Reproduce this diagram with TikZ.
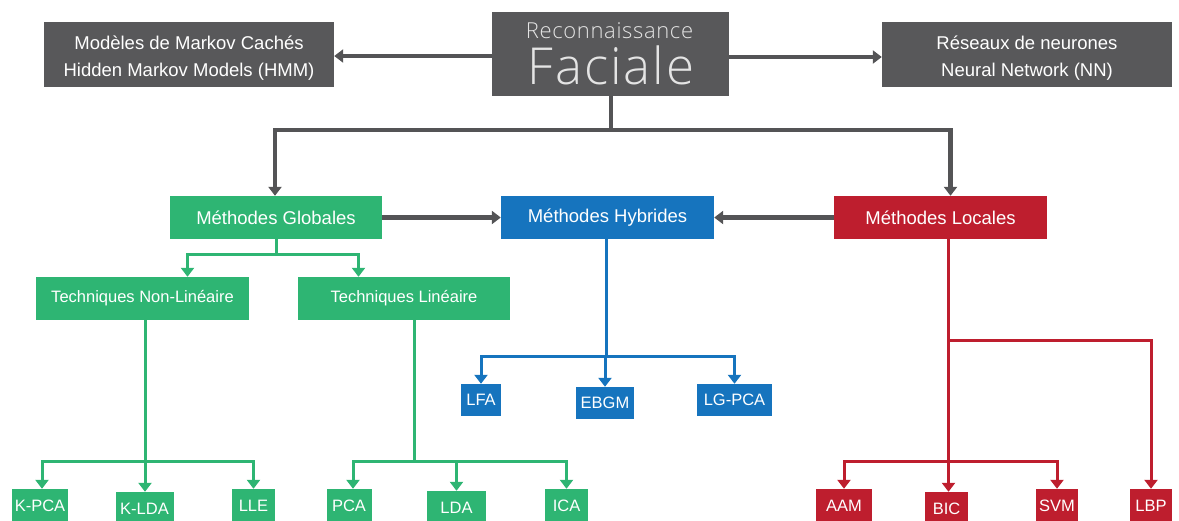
\documentclass[tikz,border=0pt]{standalone}
\usepackage{fontspec}
\setmainfont{Liberation Sans}
\newfontfamily\titlefont{Open Sans Light}
\usetikzlibrary{arrows.meta}

\definecolor{boxgray}{RGB}{88,88,90}
\definecolor{linegray}{RGB}{84,84,86}
\definecolor{titletext}{RGB}{228,228,228}
\definecolor{gGreen}{RGB}{46,181,115}
\definecolor{gBlue}{RGB}{22,116,190}
\definecolor{gRed}{RGB}{190,30,46}

\begin{document}
\begin{tikzpicture}[x=1pt,y=-1pt,
  box/.style={rectangle, inner sep=0pt, text=white, align=center},
  darkbox/.style={box, fill=boxgray, minimum width=290pt, minimum height=65pt},
  darktext/.style={box, font=\fontsize{18.5}{27}\selectfont},
  midbox/.style={box, minimum height=43pt, font=\fontsize{18.5}{20}\selectfont},
  techbox/.style={box, fill=gGreen, minimum width=213pt, minimum height=43pt,
    font=\fontsize{16.5}{18}\selectfont},
  leaf/.style={box, minimum height=34pt, font=\fontsize{16.5}{18}\selectfont},
  hleaf/.style={box, fill=gBlue, minimum height=32pt, font=\fontsize{16.5}{18}\selectfont},
  grayarrow/.style={draw=linegray, line width=4.5pt,
    -{Triangle[width=13pt,length=9pt]}},
  grayline/.style={draw=linegray, line width=4pt},
  tree/.style={line width=3pt, -{Triangle[width=13pt,length=9pt]}},
  treeline/.style={line width=3pt},
]
\useasboundingbox (0,0) rectangle (1179,520);

% --- top row ---
\node[box, fill=boxgray, minimum width=237pt, minimum height=84pt] (title) at (610.5,54) {};
\node[anchor=base, text=titletext, inner sep=0pt,
  font=\titlefont\addfontfeature{LetterSpace=3}\fontsize{22}{22}\selectfont]
  (titleA) at (609.5,38) {Reconnaissance};
\node[anchor=base, text=titletext, inner sep=0pt,
  font=\titlefont\addfontfeature{LetterSpace=4}\fontsize{51}{51}\selectfont]
  (titleB) at (611,84) {Faciale};

\node[darkbox] (hmm) at (189,54.5) {};
\node[darktext] (hmmtxt) at ([yshift=-3.5pt]hmm.center) {Modèles de Markov Cachés\\Hidden Markov Models (HMM)};
\node[darkbox] (nn) at (1027,54.5) {};
\node[darktext] (nntxt) at ([yshift=-3.5pt]nn.center) {Réseaux de neurones\\Neural Network (NN)};

\draw[grayarrow] (title.west |- 0,56) -- (hmm.east |- 0,56);
\draw[grayarrow] (title.east |- 0,57) -- (nn.west |- 0,57);

% --- method families ---
\node[midbox, fill=gGreen, minimum width=212pt] (glob) at (276,217.5) {Méthodes Globales};
\node[midbox, fill=gBlue, minimum width=213pt] (hyb) at (607.5,217.5) {Méthodes Hybrides};
\node[midbox, fill=gRed, minimum width=213pt] (loc) at (940.5,217.5) {Méthodes Locales};

\coordinate (gbar) at (0,130);
\draw[grayline] (title.south) -- (title.south |- gbar);
\draw[grayarrow] (title.south |- gbar) -| ([xshift=-1pt]glob.north);
\draw[grayarrow] (title.south |- gbar) -| ([xshift=10pt]loc.north);
\draw[grayarrow] (glob.east) -- (hyb.west);
\draw[grayarrow] (loc.west) -- (hyb.east);

% --- global methods ---
\node[techbox] (tnl) at (142.5,298.5) {Techniques Non-Linéaire};
\node[techbox, minimum width=212pt] (tl) at (404,298.5) {Techniques Linéaire};

\coordinate (g1) at (0,254);
\draw[treeline, draw=gGreen] (glob.south) -- (glob.south |- g1);
\draw[tree, draw=gGreen] (glob.south |- g1) -| ([xshift=45pt]tnl.north);
\draw[tree, draw=gGreen] (glob.south |- g1) -| ([xshift=-45.5pt]tl.north);

\node[leaf, fill=gGreen, minimum width=56pt] (kpca) at (40,506) {K-PCA};
\node[leaf, fill=gGreen, minimum width=58pt] (klda) at (144.5,509) {K-LDA};
\node[leaf, fill=gGreen, minimum width=43pt] (lle) at (253.5,506) {LLE};
\node[leaf, fill=gGreen, minimum width=45pt] (pca) at (349,506) {PCA};
\node[leaf, fill=gGreen, minimum width=59pt] (lda) at (456.5,508) {LDA};
\node[leaf, fill=gGreen, minimum width=43pt] (ica) at (566.5,506) {ICA};

\coordinate (g2) at (0,461);
\coordinate (nlx) at ([xshift=2.5pt]tnl.south);
\coordinate (lx) at ([xshift=10pt]tl.south);
\draw[treeline, draw=gGreen] (nlx) -- (nlx |- g2);
\draw[tree, draw=gGreen] (nlx |- g2) -| ([xshift=2pt]kpca.north);
\draw[tree, draw=gGreen] (nlx |- g2) -- (nlx |- klda.north);
\draw[tree, draw=gGreen] (nlx |- g2) -| (lle.north);
\draw[treeline, draw=gGreen] (lx) -- (lx |- g2);
\draw[tree, draw=gGreen] (lx |- g2) -| ([xshift=4pt]pca.north);
\draw[tree, draw=gGreen] (lx |- g2) -| (lda.north);
\draw[tree, draw=gGreen] (lx |- g2) -| (ica.north);

% --- hybrid methods ---
\node[hleaf, minimum width=40pt] (lfa) at (481,400) {LFA};
\node[hleaf, minimum width=58pt] (ebgm) at (605,403) {EBGM};
\node[hleaf, minimum width=75pt] (lgpca) at (734.5,400) {LG-PCA};

\coordinate (b1) at (0,356);
\coordinate (hx) at ([xshift=-1.5pt]hyb.south);
\draw[treeline, draw=gBlue] (hx) -- (hx |- b1);
\draw[tree, draw=gBlue] (hx |- b1) -| (lfa.north);
\draw[tree, draw=gBlue] (hx |- b1) -| (ebgm.north);
\draw[tree, draw=gBlue] (hx |- b1) -| (lgpca.north);

% --- local methods ---
\node[leaf, fill=gRed, minimum width=56pt] (aam) at (844,506) {AAM};
\node[leaf, fill=gRed, minimum width=43pt] (bic) at (946.5,509) {BIC};
\node[leaf, fill=gRed, minimum width=42pt] (svm) at (1057,506) {SVM};
\node[leaf, fill=gRed, minimum width=42pt] (lbp) at (1151,506) {LBP};

\coordinate (r1) at (0,340);
\coordinate (r2) at (0,461);
\coordinate (lcx) at ([xshift=8pt]loc.south);
\draw[treeline, draw=gRed] (lcx) -- (lcx |- r2);
\draw[tree, draw=gRed] (lcx |- r1) -| (lbp.north);
\draw[tree, draw=gRed] (lcx |- r2) -| (aam.north);
\draw[tree, draw=gRed] (lcx |- r2) -- (lcx |- bic.north);
\draw[tree, draw=gRed] (lcx |- r2) -| (svm.north);
\end{tikzpicture}
\end{document}
